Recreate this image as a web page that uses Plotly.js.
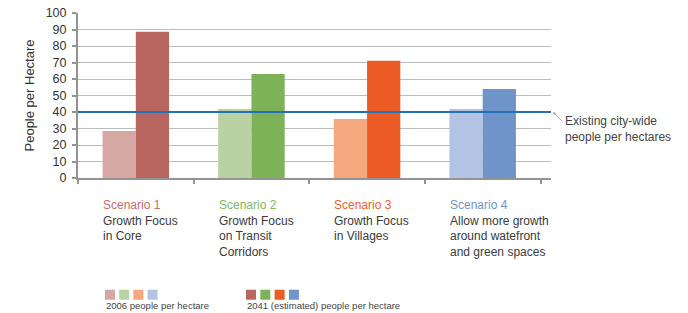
<!DOCTYPE html>
<html><head><meta charset="utf-8">
<script src="https://cdn.plot.ly/plotly-3.0.1.min.js"></script>
<style>body{margin:0;background:#fff}#c{width:688px;height:313px}</style>
</head><body><div id="c"></div>
<script>
const categories = ["Scenario 1", "Scenario 2", "Scenario 3", "Scenario 4"];
const values2006 = [28.5, 41.8, 35.7, 41.8];
const values2041 = [88.6, 63.1, 71.0, 54.0];
const existingCityWide = 40;
const scenarioTitles = ["Scenario 1", "Scenario 2", "Scenario 3", "Scenario 4"];
const scenarioDescriptions = [
  "Growth Focus<br>in Core",
  "Growth Focus<br>on Transit<br>Corridors",
  "Growth Focus<br>in Villages",
  "Allow more growth<br>around watefront<br>and green spaces"
];
const lightColors = ["#d6a8a4", "#b9d1a3", "#f5a77d", "#b2c3e3"];
const darkColors = ["#b96661", "#7db259", "#ec5a26", "#6f94c9"];
const titleColors = ["#c86a66", "#80b95a", "#f0602c", "#6f94c9"];
const legendLabels = ["2006 people per hectare", "2041 (estimated) people per hectare"];
const annotationText = "Existing city-wide<br>people per hectares";

const L = 78, R = 551, T = 13.3, B = 177.7, W = 688, H = 313;
const px = x => (x - L) / (R - L);
const py = y => (B - y) / (B - T);
const FONT = "Liberation Sans, Arial, sans-serif";

const traces = [
  {type: "bar", x: categories, y: values2006, marker: {color: lightColors}, name: legendLabels[0], hoverinfo: "none"},
  {type: "bar", x: categories, y: values2041, marker: {color: darkColors}, name: legendLabels[1], hoverinfo: "none"}
];

const annotations = [];
categories.forEach((c, i) => {
  annotations.push({
    xref: "x", yref: "paper", x: i - 0.3, y: 0, xanchor: "left", yanchor: "top", yshift: -18,
    align: "left", showarrow: false,
    text: '<span style="color:' + titleColors[i] + '">' + scenarioTitles[i] + '</span><br>' + scenarioDescriptions[i],
    font: {family: FONT, size: 12, color: "#3a3a3a"}
  });
});
annotations.push({
  xref: "paper", yref: "y", x: px(563), y: existingCityWide, xanchor: "left", yanchor: "top", yshift: 0,
  align: "left", showarrow: false, text: annotationText,
  font: {family: FONT, size: 12, color: "#444"}
});
annotations.push({
  xref: "paper", yref: "y", x: px(553), y: existingCityWide, text: "", showarrow: true,
  ax: 11, ay: 11, arrowhead: 2, arrowsize: 0.7, arrowwidth: 0.8, arrowcolor: "#9a9a9a"
});
annotations.push({
  xref: "paper", yref: "paper", x: px(104), y: py(305), xanchor: "left", yanchor: "middle", showarrow: false,
  text: legendLabels[0], font: {family: FONT, size: 9.5, color: "#444"}
});
annotations.push({
  xref: "paper", yref: "paper", x: px(245), y: py(305), xanchor: "left", yanchor: "middle", showarrow: false,
  text: legendLabels[1], font: {family: FONT, size: 9.5, color: "#444"}
});

const shapes = [{
  type: "line", xref: "paper", yref: "y", x0: 0, x1: 1, y0: existingCityWide, y1: existingCityWide,
  line: {color: "#2271b5", width: 2}
}];
lightColors.forEach((col, i) => {
  const x0 = 105 + i * 14.2;
  shapes.push({type: "rect", xref: "paper", yref: "paper", x0: px(x0), x1: px(x0 + 10), y0: py(299), y1: py(289), fillcolor: col, line: {width: 0}});
});
darkColors.forEach((col, i) => {
  const x0 = 246 + i * 14.3;
  shapes.push({type: "rect", xref: "paper", yref: "paper", x0: px(x0), x1: px(x0 + 10), y0: py(299), y1: py(289), fillcolor: col, line: {width: 0}});
});

const layout = {
  width: W, height: H,
  margin: {l: L, r: W - R, t: T, b: H - B, pad: 0},
  paper_bgcolor: "#fff", plot_bgcolor: "#fff",
  showlegend: false, barmode: "group", bargap: 0.425, bargroupgap: 0,
  font: {family: FONT, color: "#333"},
  xaxis: {
    type: "category", showticklabels: false, showgrid: false, zeroline: false,
    showline: true, linecolor: "#939393", linewidth: 2,
    ticks: "outside", tickson: "boundaries", ticklen: 4, tickcolor: "#939393", tickwidth: 2
  },
  yaxis: {
    range: [0, 100], dtick: 10, showgrid: true, gridcolor: "#bcbcbc", gridwidth: 1, zeroline: false,
    showline: true, linecolor: "#939393", linewidth: 2,
    ticks: "outside", ticklen: 4, tickcolor: "#939393", tickwidth: 2, ticklabelstandoff: 3,
    tickfont: {size: 12.5, color: "#333"},
    title: {text: "People per Hectare", font: {size: 13, color: "#333"}, standoff: 8}
  },
  shapes: shapes, annotations: annotations
};
Plotly.newPlot("c", traces, layout, {displayModeBar: false, staticPlot: true});
</script></body></html>
